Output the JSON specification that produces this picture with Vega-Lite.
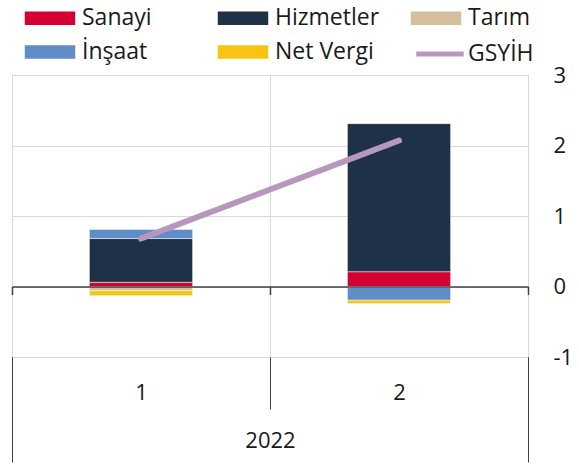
{
  "$schema": "https://vega.github.io/schema/vega-lite/v6.json",
  "width": 516,
  "height": 282,
  "autosize": {"type": "none"},
  "padding": {"left": 12, "top": 75, "right": 51, "bottom": 108},
  "config": {
    "view": {"stroke": "#d9d9d9", "strokeWidth": 1},
    "font": "Open Sans",
    "axis": {"labelFont": "Open Sans", "labelColor": "#1a1a1a", "labelFontSize": 22, "title": null},
    "legend": {
      "symbolSize": 225, "labelOffset": 39,
      "labelFontSize": 23, "labelFont": "Open Sans", "labelColor": "#1a1a1a", "padding": 0,
      "labelLimit": 300
    }
  },
  "datasets": {
    "d": [
      {"quarter": "1", "year": "2022", "series": "Sanayi", "value": 0.06},
      {"quarter": "1", "year": "2022", "series": "Hizmetler", "value": 0.62},
      {"quarter": "1", "year": "2022", "series": "Tarım", "value": -0.06},
      {"quarter": "1", "year": "2022", "series": "İnşaat", "value": 0.13},
      {"quarter": "1", "year": "2022", "series": "Net Vergi", "value": -0.07},
      {"quarter": "1", "year": "2022", "series": "GSYİH", "value": 0.68},
      {"quarter": "2", "year": "2022", "series": "Sanayi", "value": 0.21},
      {"quarter": "2", "year": "2022", "series": "Hizmetler", "value": 2.10},
      {"quarter": "2", "year": "2022", "series": "Tarım", "value": -0.015},
      {"quarter": "2", "year": "2022", "series": "İnşaat", "value": -0.18},
      {"quarter": "2", "year": "2022", "series": "Net Vergi", "value": -0.045},
      {"quarter": "2", "year": "2022", "series": "GSYİH", "value": 2.07}
    ]
  },
  "data": {"name": "d"},
  "layer": [
    {
      "layer": [
        {
          "transform": [
            {"filter": "datum.series !== 'GSYİH'"},
            {"calculate": "indexof(['Sanayi','Hizmetler','Tarım','İnşaat','Net Vergi'], datum.series)", "as": "stackRank"}
          ],
          "mark": {"type": "bar", "stroke": "#ffffff", "strokeWidth": 0.5, "width": {"band": 0.4}},
          "encoding": {
            "x": {
              "field": "quarter", "type": "nominal",
              "scale": {"paddingInner": 0, "paddingOuter": 0},
              "axis": {"orient": "bottom", "domain": false, "tickBand": "extent", "tickSize": 52, "tickColor": "#404040", "labelAngle": 0, "labelBaseline": "middle", "labelPadding": -17, "grid": true, "gridColor": "#d9d9d9"}
            },
            "y": {
              "field": "value", "type": "quantitative", "stack": "zero",
              "scale": {"domain": [-1, 3], "nice": false},
              "axis": {"orient": "right", "values": [-1, 0, 1, 2, 3], "labelExpr": "'' + datum.value", "domain": false, "ticks": false, "labelPadding": 25, "gridColor": "#d9d9d9"}
            },
            "order": {"field": "stackRank", "type": "quantitative", "sort": "ascending"},
            "color": {
              "field": "series", "type": "nominal",
              "scale": {
                "domain": ["Sanayi", "Hizmetler", "Tarım", "İnşaat", "Net Vergi"],
                "range": ["#d50032", "#1e3147", "#d5bf9b", "#5f8dc6", "#f8c312"]
              },
              "legend": {
                "title": null,
                "orient": "none", "legendX": 8, "legendY": -68.5,
                "columns": 3, "direction": "horizontal", "gridAlign": "all",
                "columnPadding": 26, "rowPadding": 10,
                "symbolType": "M-1,-1H5.93V1H-1Z"
              }
            }
          }
        },
        {
          "transform": [{"filter": "datum.series === 'GSYİH'"}],
          "mark": {"type": "line", "strokeWidth": 6, "strokeCap": "round"},
          "encoding": {
            "x": {"field": "quarter", "type": "nominal"},
            "y": {"field": "value", "type": "quantitative"},
            "stroke": {
              "field": "series", "type": "nominal",
              "scale": {"domain": ["GSYİH"], "range": ["#b897bd"]},
              "legend": {
                "title": null,
                "orient": "none", "legendX": 398, "legendY": -32.5,
                "labelOffset": 35,
                "symbolType": "M-0.7,0H5.63", "symbolStrokeWidth": 5
              }
            }
          }
        }
      ]
    },
    {
      "transform": [{"filter": "datum.series === 'GSYİH'"}],
      "mark": {"type": "rule", "opacity": 0},
      "encoding": {
        "x": {
          "field": "year", "type": "nominal",
          "scale": {"paddingInner": 0, "paddingOuter": 0},
          "axis": {"orient": "bottom", "domain": false, "tickBand": "extent", "tickSize": 105, "tickColor": "#404040", "labelAngle": 0, "labelBaseline": "middle", "labelPadding": -22, "grid": false}
        }
      }
    },
    {
      "transform": [{"filter": "datum.series === 'GSYİH'"}],
      "mark": {"type": "rule", "opacity": 0},
      "encoding": {
        "x": {
          "field": "quarter", "type": "nominal",
          "scale": {"paddingInner": 0, "paddingOuter": 0},
          "axis": {"orient": "bottom", "offset": -70.5, "domain": true, "domainColor": "#404040", "domainWidth": 1.3, "tickBand": "extent", "tickSize": 8, "tickWidth": 1.5, "tickColor": "#404040", "labels": false, "grid": false, "zindex": 1}
        }
      }
    }
  ],
  "resolve": {"scale": {"x": "independent"}, "axis": {"x": "independent"}}
}
